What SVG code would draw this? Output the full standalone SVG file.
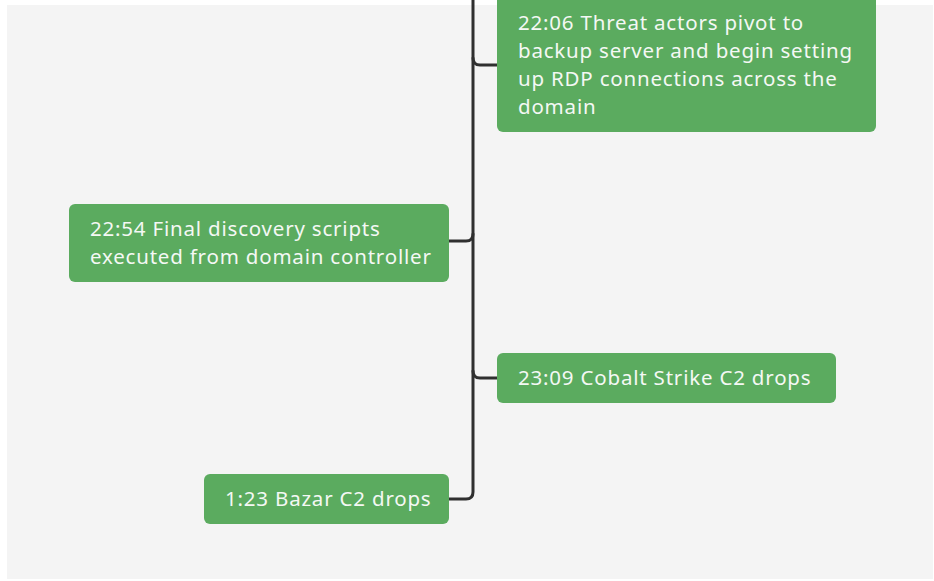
<svg xmlns="http://www.w3.org/2000/svg" width="934" height="581" viewBox="0 0 934 581">
  <style>
    .box { fill: #5bab5f; }
    .label { font-family: "Noto Sans", "DejaVu Sans", sans-serif; font-size: 20.5px; letter-spacing: 0.8px; fill: #f4f8f4; }
    .link { fill: none; stroke: #2f2f2f; stroke-width: 3; stroke-linecap: round; stroke-linejoin: round; }
  </style>
  <rect width="934" height="581" fill="#ffffff"/>
  <rect x="7" y="5" width="926" height="574" fill="#f4f4f4"/>

  <g id="connectors">
    <path class="link" d="M473,0 V492 Q473,499 466,499 H449"/>
    <path class="link" d="M473,58 Q473,65 480,65 H497"/>
    <path class="link" d="M473,234 Q473,241 466,241 H449"/>
    <path class="link" d="M473,371 Q473,378 480,378 H497"/>
  </g>

  <g id="node-2206">
    <rect class="box" x="497" y="-10" width="379" height="142" rx="6"/>
    <text class="label" x="518" y="30">22:06 Threat actors pivot to</text>
    <text class="label" x="518" y="58">backup server and begin setting</text>
    <text class="label" x="518" y="86">up RDP connections across the</text>
    <text class="label" x="518" y="114">domain</text>
  </g>

  <g id="node-2254">
    <rect class="box" x="69" y="204" width="380" height="78" rx="6"/>
    <text class="label" x="90" y="236">22:54 Final discovery scripts</text>
    <text class="label" x="90" y="264">executed from domain controller</text>
  </g>

  <g id="node-2309">
    <rect class="box" x="497" y="353" width="339" height="50" rx="6"/>
    <text class="label" x="518" y="385">23:09 Cobalt Strike C2 drops</text>
  </g>

  <g id="node-0123">
    <rect class="box" x="204" y="474" width="245" height="50" rx="6"/>
    <text class="label" x="225" y="506">1:23 Bazar C2 drops</text>
  </g>
</svg>
